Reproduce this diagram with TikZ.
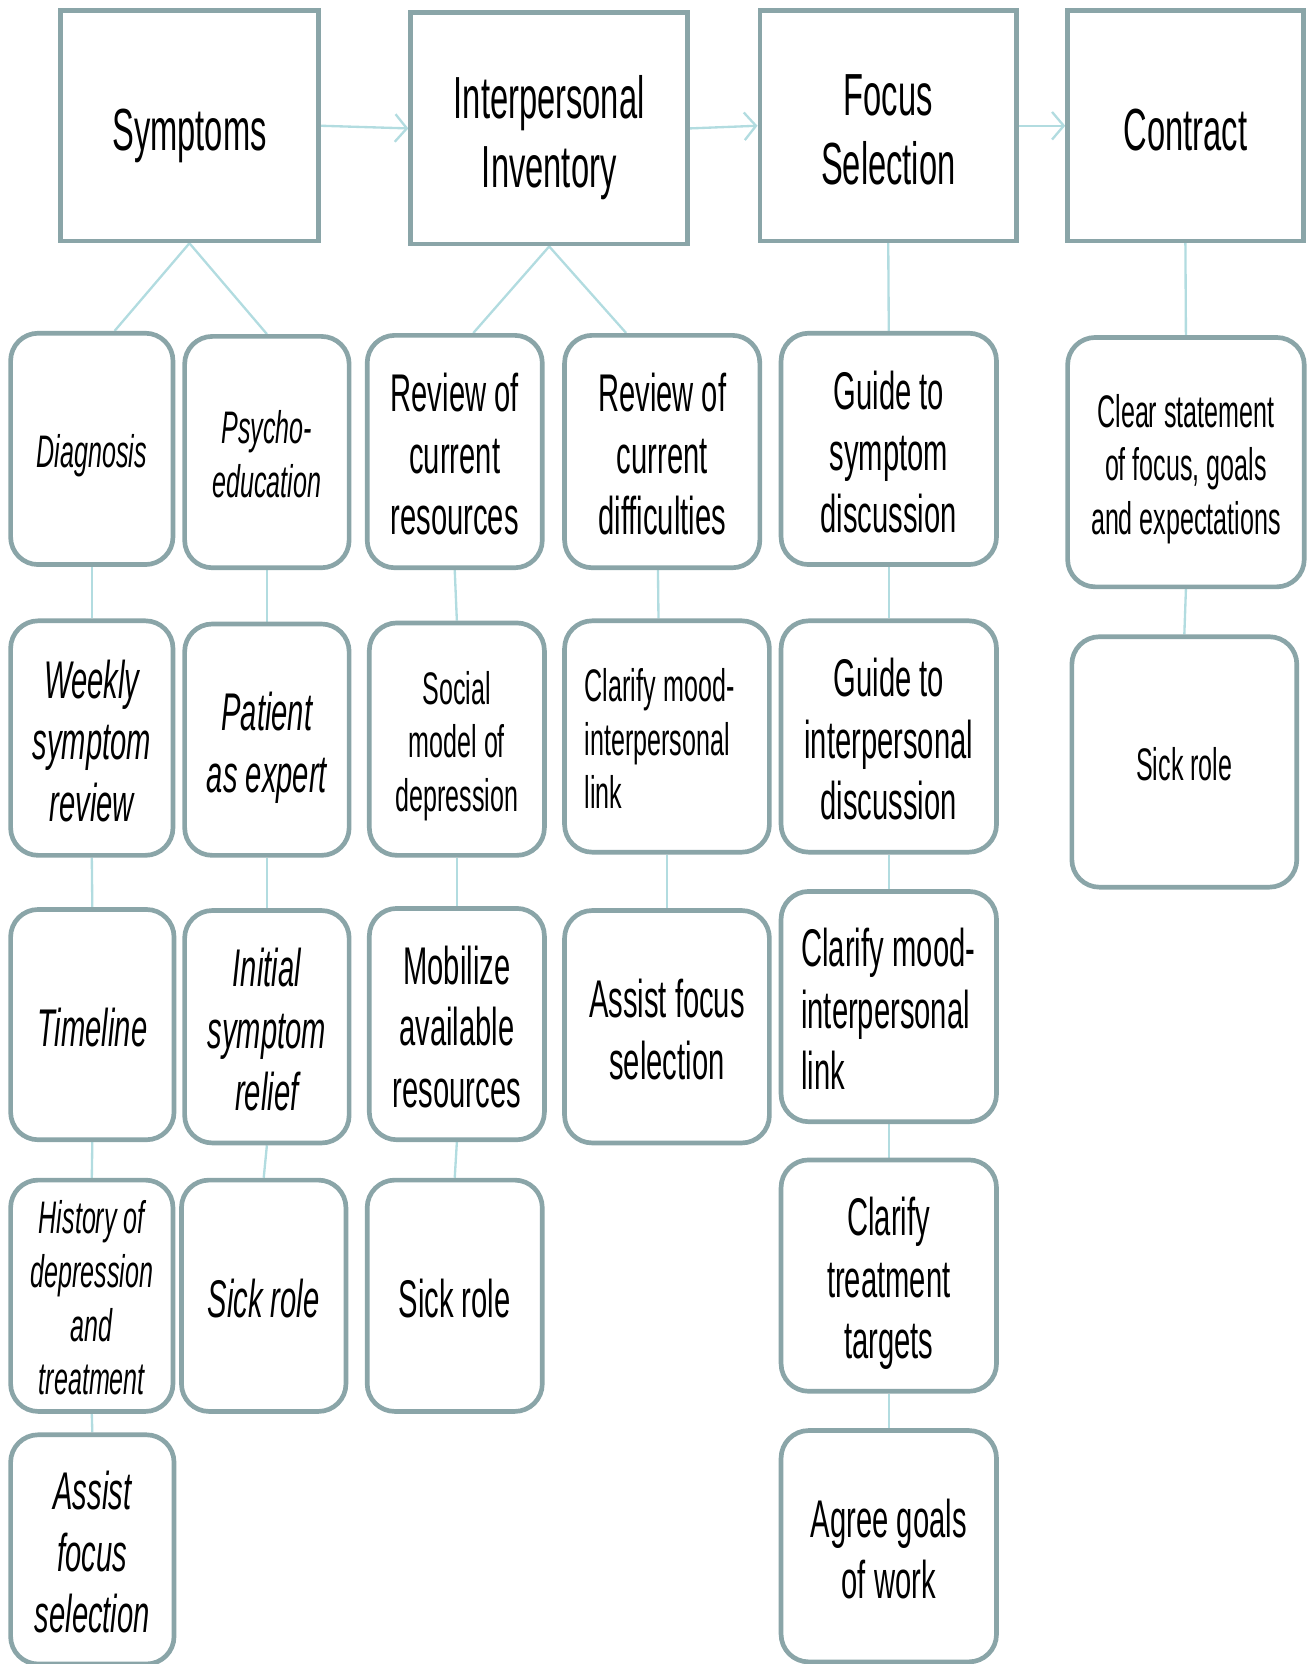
\documentclass[tikz,border=0pt]{standalone}
\usepackage{fontspec}
\setmainfont{Liberation Sans}[FakeStretch=0.55]
\usetikzlibrary{arrows.meta,backgrounds}
\definecolor{bordc}{HTML}{8AA5A8}
\definecolor{linkc}{HTML}{B2DCE0}
\newcommand\fTitle{\fontsize{28pt}{32.5pt}\selectfont}
\newcommand\fBig{\fontsize{25pt}{29pt}\selectfont}
\newcommand\fMed{\fontsize{21.5pt}{25.3pt}\selectfont}
\newcommand\topstr{\rule{0pt}{1.03em}}
\newcommand\botstr{\rule[-0.212em]{0pt}{0.212em}}
\newcommand\mkbox[7]{\node[#1, minimum width={(#5-#3)*0.5pt}, minimum height={(#6-#4)*0.5pt}] (#2) at ({(#3+#5)/2},{(#4+#6)/2}) {\topstr#7\botstr};}
\begin{document}
\begin{tikzpicture}[x=0.5pt,y=-0.5pt,
  box/.style={draw=bordc, line width=2.2pt, fill=white, inner sep=0pt, align=center, text=black},
  tbox/.style={box, font=\fTitle},
  rbox/.style={box, rounded corners=13pt},
  big/.style={rbox, font=\fBig},
  bigi/.style={rbox, font=\fBig\itshape},
  med/.style={rbox, font=\fMed},
  medi/.style={rbox, font=\fMed\itshape},
  link/.style={draw=linkc, line width=1.1pt},
  arr/.style={link, -{Straight Barb[length=5.5pt,width=13pt]}}]
\useasboundingbox (0,0) rectangle (1235,1568);
% top row
\mkbox{tbox}{sym}{57}{10}{300}{227}{Symptoms}
\mkbox{tbox}{inv}{387}{12}{648}{230}{Interpersonal\\Inventory}
\mkbox{tbox}{foc}{716}{10}{958}{227}{Focus\\Selection}
\mkbox{tbox}{con}{1006}{10}{1228}{227}{Contract}
% column 1
\mkbox{medi}{diag}{10}{314}{163}{532}{Diagnosis}
\mkbox{bigi}{week}{10}{585}{163}{806}{Weekly\\symptom\\review}
\mkbox{bigi}{time}{10}{857}{164}{1074}{Timeline}
\mkbox{medi}{hist}{10}{1112}{163}{1330}{History of\\depression\\and\\treatment}
\mkbox{bigi}{asa}{10}{1352}{164}{1568}{Assist\\focus\\selection}
% column 2
\mkbox{medi}{psy}{174}{317}{329}{535}{Psycho-\\education}
\mkbox{bigi}{pat}{174}{588}{329}{806}{Patient\\as expert}
\mkbox{bigi}{ini}{174}{858}{329}{1077}{Initial\\symptom\\relief}
\mkbox{bigi}{skb}{171}{1112}{326}{1330}{Sick role}
% column 3
\mkbox{big}{rcr}{346}{316}{511}{535}{Review of\\current\\resources}
\mkbox{med}{soc}{348}{587}{513}{806}{Social\\model of\\depression}
\mkbox{big}{mob}{348}{856}{513}{1074}{Mobilize\\available\\resources}
\mkbox{big}{skc}{346}{1112}{511}{1330}{Sick role}
% column 4
\mkbox{big}{rcd}{532}{316}{716}{535}{Review of\\current\\difficulties}
\mkbox{med, align=left, text width=77.5pt}{cld}{532}{585}{725}{803}{\mbox{Clarify\hspace{-0.17em} mood-}\\\mbox{interpersonal}\\\mbox{link}}
\mkbox{big}{asd}{532}{858}{725}{1077}{Assist focus\\selection}
% column 5
\mkbox{big}{gsd}{736}{314}{939}{532}{Guide to\\symptom\\discussion}
\mkbox{big}{gid}{736}{585}{939}{803}{Guide to\\interpersonal\\discussion}
\mkbox{big, align=left, text width=82.5pt}{cle}{736}{840}{939}{1057}{\mbox{Clarify\hspace{-0.17em} mood-}\\\mbox{interpersonal}\\\mbox{link}}
\mkbox{big}{ctt}{736}{1093}{939}{1311}{Clarify\\treatment\\targets}
\mkbox{big}{agw}{736}{1348}{939}{1566}{Agree goals\\of work}
% column 6
\mkbox{med}{cst}{1006}{318}{1229}{553}{Clear statement\\of focus, goals\\and expectations}
\mkbox{med}{skf}{1010}{600}{1222}{836}{Sick role}
\begin{pgfonlayer}{background}
\draw[arr] (sym.east) -- (inv.west);
\draw[arr] (inv.east) -- (foc.west);
\draw[arr] (foc.east) -- (con.west);
\draw[link] ([xshift=10.75pt]diag.north) -- (sym.south) -- (psy.north);
\draw[link] ([xshift=8.75pt]rcr.north) -- (inv.south) -- ([xshift=-17pt]rcd.north);
\draw[link] (foc.south) -- (gsd.north);
\draw[link] (con.south) -- (cst.north);
\draw[link] (diag.south) -- (week.north);
\draw[link] (week.south) -- (time.north);
\draw[link] (time.south) -- (hist.north);
\draw[link] (hist.south) -- (asa.north);
\draw[link] (psy.south) -- (pat.north);
\draw[link] (pat.south) -- (ini.north);
\draw[link] (ini.south) -- (skb.north);
\draw[link] (rcr.south) -- (soc.north);
\draw[link] (soc.south) -- (mob.north);
\draw[link] (mob.south) -- (skc.north);
\draw[link] ([xshift=-2pt]rcd.south) -- ([xshift=-4pt]cld.north);
\draw[link] (cld.south) -- (asd.north);
\draw[link] (gsd.south) -- (gid.north);
\draw[link] (gid.south) -- (cle.north);
\draw[link] (cle.south) -- (ctt.north);
\draw[link] (ctt.south) -- (agw.north);
\draw[link] (cst.south) -- (skf.north);
\end{pgfonlayer}
\end{tikzpicture}
\end{document}
